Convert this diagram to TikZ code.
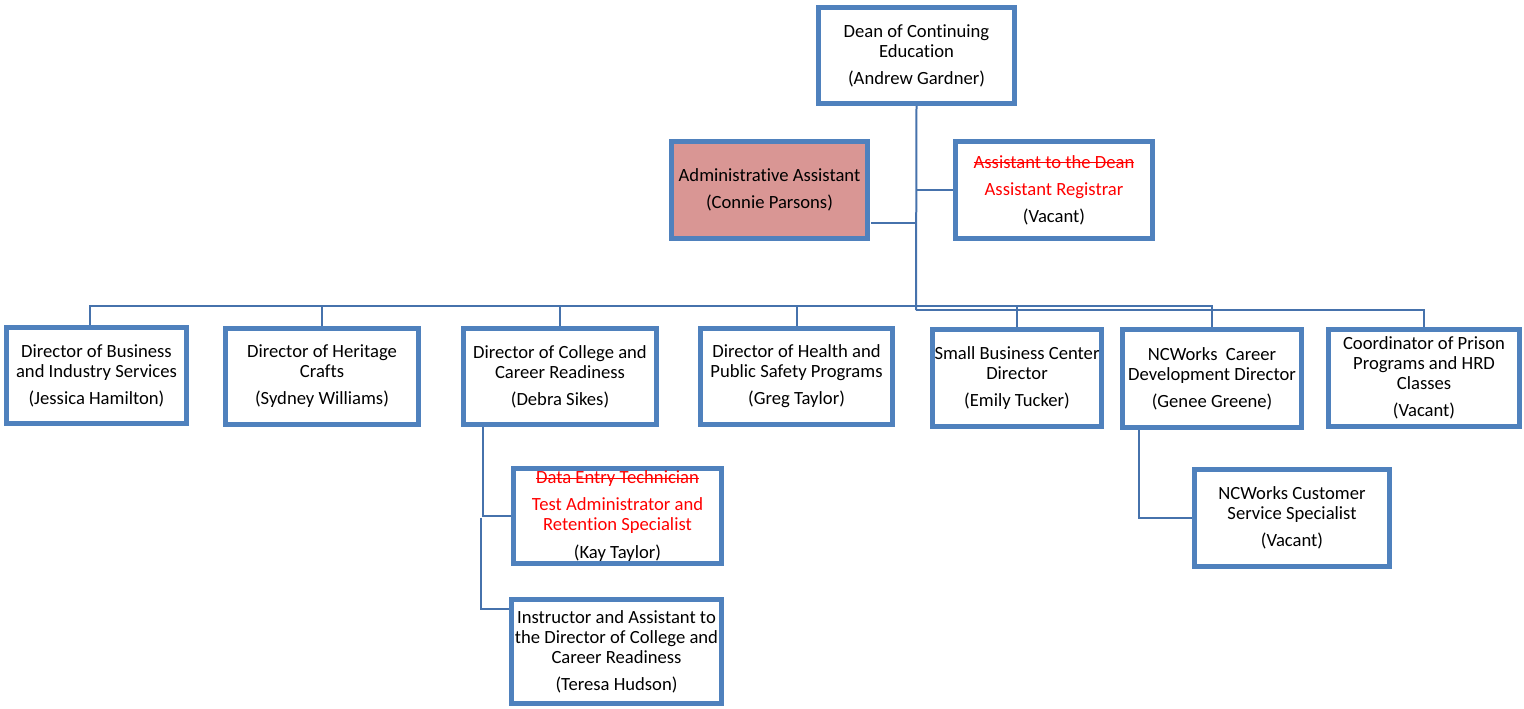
\documentclass[tikz,border=0pt]{standalone}
\usepackage{fontspec}
\setmainfont{Carlito}[Ligatures={NoCommon}]
\usetikzlibrary{backgrounds}
\definecolor{boxblue}{HTML}{4F81BD}
\definecolor{lineblue}{HTML}{4672AC}
\definecolor{adminfill}{HTML}{D99694}
\definecolor{strikered}{HTML}{FF0000}
\newcommand\mystrike[1]{\setbox0=\hbox{#1}\rlap{\raisebox{0.27em}{\rule{\wd0}{0.6pt}}}\box0}
\begin{document}
\begin{tikzpicture}[x=0.02cm,y=-0.02cm,
  box/.style={draw=boxblue, line width=0.1cm, fill=white, inner sep=0pt, outer sep=0pt,
    align=center, text=black, font=\fontsize{10.6}{11.4}\selectfont},
  conn/.style={draw=lineblue, line width=0.04cm}]
\useasboundingbox (0,0) rectangle (1524,708);

% top level
\node[box, minimum width=3.92cm, minimum height=1.92cm] (dean) at (916.5,55.5)
  {Dean of Continuing\\Education\\[4pt](Andrew Gardner)};
\node[box, fill=adminfill, minimum width=3.92cm, minimum height=1.94cm] (admin) at (769.5,190)
  {Administrative Assistant\\[4pt](Connie Parsons)};
\node[box, minimum width=3.94cm, minimum height=1.94cm] (reg) at (1054,190)
  {{\color{strikered}\mystrike{Assistant to the Dean}}\\[4pt]{\color{strikered}Assistant Registrar}\\[4pt](Vacant)};

% second row
\node[box, minimum width=3.60cm, minimum height=1.92cm] (bus) at (96.5,375.5)
  {Director of Business\\and Industry Services\\[4pt](Jessica Hamilton)};
\node[box, minimum width=3.86cm, minimum height=1.92cm] (her) at (322,376.5)
  {Director of Heritage\\Crafts\\[4pt](Sydney Williams)};
\node[box, minimum width=3.86cm, minimum height=1.92cm] (col) at (560,376.5)
  {Director of College and\\Career Readiness\\[4pt](Debra Sikes)};
\node[box, minimum width=3.84cm, minimum height=1.92cm] (hea) at (796.5,376.5)
  {Director of Health and\\Public Safety Programs\\[4pt](Greg Taylor)};
\node[box, minimum width=3.38cm, minimum height=1.94cm] (sbc) at (1017,378)
  {Small Business Center\\Director\\[4pt](Emily Tucker)};
\node[box, minimum width=3.58cm, minimum height=1.96cm] (ncw) at (1212,378.5)
  {NCWorks\ \ Career\\Development Director\\[4pt](Genee Greene)};
\node[box, minimum width=3.82cm, minimum height=1.94cm] (pri) at (1424,378)
  {Coordinator of Prison\\Programs and HRD\\Classes\\[4pt](Vacant)};

% third level
\node[box, minimum width=4.16cm, minimum height=1.90cm] (kay) at (617.5,516)
  {{\color{strikered}\mystrike{Data Entry Technician}}\\[4pt]{\color{strikered}Test Administrator and}\\{\color{strikered}Retention Specialist}\\[4pt](Kay Taylor)};
\node[box, minimum width=4.20cm, minimum height=2.08cm] (ter) at (616.5,651.5)
  {Instructor and Assistant to\\the Director of College and\\Career Readiness\\[4pt](Teresa Hudson)};
\node[box, minimum width=3.90cm, minimum height=1.94cm] (ncc) at (1292,518)
  {NCWorks Customer\\Service Specialist\\[4pt](Vacant)};

% junction coordinates
\coordinate (busL) at (916,306);
\coordinate (busR) at (916,310);
\coordinate (jadmin) at (916,223);
\coordinate (jreg) at (916,190);
\coordinate (jkay) at (483,516);
\coordinate (jter) at (481,609);
\coordinate (jncc) at (1139,518);

\begin{scope}[on background layer]
  \draw[conn] (dean.south) -- (busR);
  \draw[conn] ([xshift=0.08cm]admin.east |- jadmin) -- (jadmin);
  \draw[conn] (jreg) -- (reg.west);
  % bus lines
  \draw[conn] (busL) -| ([xshift=-0.13cm]bus.north);
  \draw[conn] (busL) -| (ncw.north);
  \draw[conn] (busR) -| (pri.north);
  \draw[conn] (her.north) -- (her.north |- busL);
  \draw[conn] (col.north) -- (col.north |- busL);
  \draw[conn] (hea.north) -- (hea.north |- busL);
  \draw[conn] (sbc.north) -- (sbc.north |- busL);
  % sub connectors
  \draw[conn] (col.south -| jkay) -- (jkay) -- (kay.west);
  \draw[conn] ([yshift=-0.04cm]jkay -| jter) -- (jter) -- (ter.west |- jter);
  \draw[conn] (ncw.south -| jncc) -- (jncc) -- (ncc.west);
\end{scope}
\end{tikzpicture}
\end{document}
